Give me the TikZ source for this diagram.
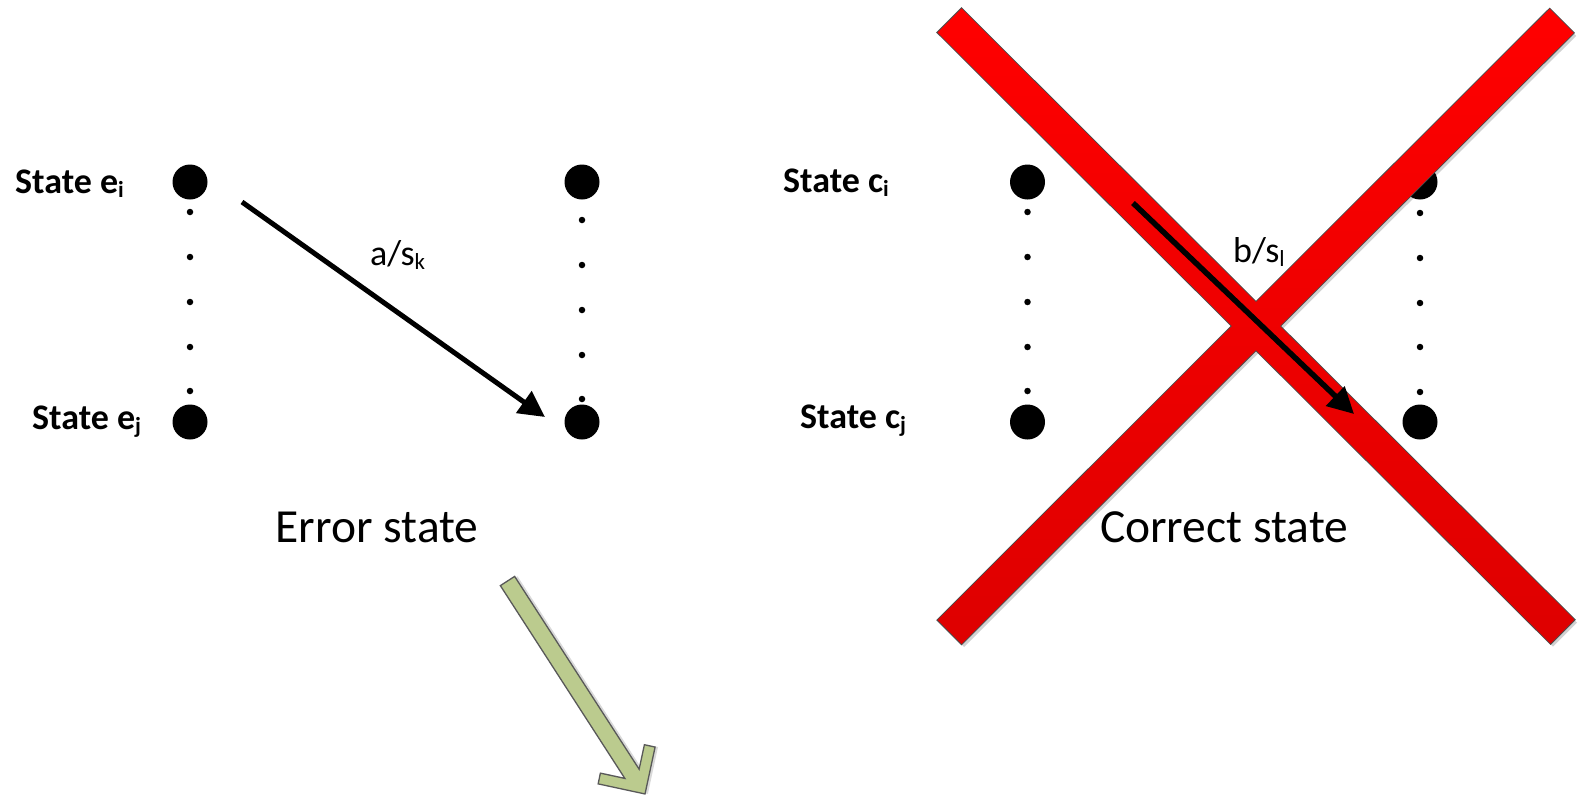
\documentclass[tikz,border=0pt]{standalone}
\usepackage{fontspec}
\setmainfont{Carlito}
\usetikzlibrary{arrows.meta}

% lowered, smaller index letter in the label font
\newcommand\lowsub[1]{\raisebox{-0.12em}{\fontsize{23}{23}\selectfont #1}}

\definecolor{crossred}{RGB}{255,0,0}
\definecolor{crossreddark}{RGB}{222,0,0}
\definecolor{olivefill}{RGB}{187,203,142}

\tikzset{
  bigdot/.style={circle, fill=black, minimum size=35pt, inner sep=0pt},
  smalldot/.style={circle, fill=black, minimum size=6.5pt, inner sep=0pt},
  statelabel/.style={inner sep=0pt, font=\fontsize{36}{43}\selectfont\bfseries},
  translabel/.style={inner sep=0pt, font=\fontsize{36}{43}\selectfont},
  caption/.style={inner sep=0pt, font=\fontsize{47.5}{57}\selectfont},
  transarrow/.style={line width=5pt, -{Triangle[length=26pt,width=26pt]}},
  bandshadow/.style={fill=black, opacity=0.18},
  bandoutline/.style={draw=black!70, line width=1.8pt},
  bandfill/.style={top color=crossred, bottom color=crossreddark, draw=none},
  bigarrow/.style={fill=olivefill, draw=black!65, line width=1.3pt, line join=miter},
}

\begin{document}
\begin{tikzpicture}[x=1pt, y=-1pt]
  \useasboundingbox (0,0) rectangle (1578,798);
  \fill[white] (0,0) rectangle (1578,798);

  % ---------- error machine ----------
  \node[bigdot] (ei) at (190,182) {};
  \node[bigdot] (ej) at (190,422) {};
  \node[bigdot] (ei2) at (582,182) {};
  \node[bigdot] (ej2) at (582,422) {};
  \foreach \y [count=\k] in {212,257,302,347,391}
    \node[smalldot] (el\k) at (190,\y) {};
  \foreach \y [count=\k] in {220,265,310,355,399}
    \node[smalldot] (er\k) at (582,\y) {};

  \node[statelabel, anchor=base west] (lei) at (15,193) {State e\lowsub{i}};
  \node[statelabel, anchor=base west] (lej) at (32,429) {State e\lowsub{j}};
  \node[translabel, anchor=base west] (lak) at (370,265) {a/s\lowsub{k}};
  \node[caption, anchor=base] (errcap) at (377,542) {Error state};

  \coordinate (a1s) at (242,202);
  \coordinate (a1e) at (545,417);
  \draw[transarrow] (a1s) -- (a1e);

  % ---------- correct machine ----------
  \node[bigdot] (ci) at (1027.5,182) {};
  \node[bigdot] (cj) at (1027.5,422) {};
  \node[bigdot] (ci2) at (1420,182) {};
  \node[bigdot] (cj2) at (1420,422) {};
  \foreach \y [count=\k] in {212,257,302,347,391}
    \node[smalldot] (cl\k) at (1027.5,\y) {};
  \foreach \y [count=\k] in {213,258,303,347,392}
    \node[smalldot] (cr\k) at (1420,\y) {};

  \node[statelabel, anchor=base west] (lci) at (783,192) {State c\lowsub{i}};
  \node[statelabel, anchor=base west] (lcj) at (800,428) {State c\lowsub{j}};
  \node[translabel, anchor=base west] (lbl) at (1233,262) {b/s\lowsub{l}};
  \node[caption, anchor=base] (corcap) at (1224,542) {Correct state};

  % ---------- red cross over the correct machine ----------
  \def\bandA{(937.5,32.5) -- (961.5,8.5) -- (1574.5,619.7) -- (1550.5,643.7) -- cycle}
  \def\bandB{(1549.7,8.8) -- (1573.7,32.8) -- (961.5,644) -- (937.5,620) -- cycle}
  \begin{scope}[shift={(2.5,3)}]
    \fill[bandshadow] \bandA;
    \fill[bandshadow] \bandB;
  \end{scope}
  \path[bandoutline] \bandA;
  \path[bandoutline] \bandB;
  \path[bandfill] \bandA;
  \path[bandfill] \bandB;

  \coordinate (a2s) at (1133,203);
  \coordinate (a2e) at (1354,414);
  \draw[transarrow, line width=5.5pt] (a2s) -- (a2e);

  % ---------- block arrow pointing down-right ----------
  \begin{scope}[shift={(507.5,581)}, rotate=-57.15]
    \fill[black, opacity=0.15, shift={(1.5,-2.5)}]
      (0,-8.5) -- (229.5,-8.5) -- (211.8,-26.2) -- (219.6,-33.9) -- (253.5,0)
      -- (219.6,33.9) -- (211.8,26.2) -- (229.5,8.5) -- (0,8.5) -- cycle;
    \path[bigarrow]
      (0,-8.5) -- (229.5,-8.5) -- (211.8,-26.2) -- (219.6,-33.9) -- (253.5,0)
      -- (219.6,33.9) -- (211.8,26.2) -- (229.5,8.5) -- (0,8.5) -- cycle;
  \end{scope}
\end{tikzpicture}
\end{document}
